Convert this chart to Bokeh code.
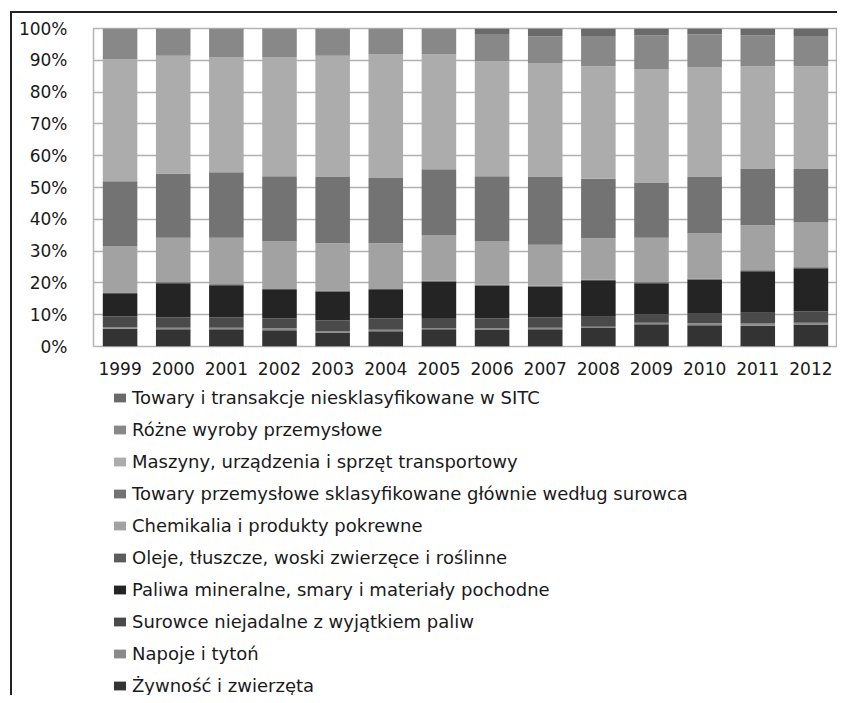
from bokeh.plotting import figure
from bokeh.layouts import column
from bokeh.models import (ColumnDataSource, FactorRange, Range1d, FixedTicker,
                          NumeralTickFormatter, Legend, LegendItem)
from bokeh.embed import file_html
from bokeh.resources import INLINE

years = ["1999", "2000", "2001", "2002", "2003", "2004", "2005",
         "2006", "2007", "2008", "2009", "2010", "2011", "2012"]

# series, bottom of the stack first
zywnosc = [5.6, 5.4, 5.4, 5.1, 4.4, 4.8, 5.4, 5.2, 5.4, 5.8, 7.0, 6.7, 6.5, 6.9]
napoje = [0.5, 0.5, 0.5, 0.6, 0.5, 0.5, 0.4, 0.6, 0.5, 0.4, 0.5, 0.6, 0.7, 0.6]
surowce = [3.3, 3.2, 3.2, 3.1, 3.3, 3.5, 3.2, 3.0, 3.2, 3.2, 2.6, 3.0, 3.4, 3.6]
paliwa = [7.1, 10.8, 10.2, 9.0, 9.1, 9.0, 11.4, 10.3, 9.7, 11.2, 9.8, 10.7, 13.1, 13.5]
oleje = [0.3, 0.3, 0.3, 0.3, 0.3, 0.3, 0.3, 0.3, 0.3, 0.4, 0.3, 0.3, 0.3, 0.3]
chemikalia = [14.8, 14.0, 14.6, 15.1, 14.9, 14.4, 14.4, 13.6, 12.9, 13.1, 14.0, 14.4, 14.1, 14.1]
towary_przem = [20.4, 20.2, 20.6, 20.3, 20.8, 20.5, 20.6, 20.5, 21.3, 18.7, 17.2, 17.6, 17.7, 16.8]
maszyny = [38.3, 37.0, 36.2, 37.5, 38.1, 39.0, 36.1, 36.2, 35.7, 35.4, 35.7, 34.4, 32.3, 32.3]
rozne = [9.7, 8.6, 9.0, 9.0, 8.6, 8.0, 8.2, 8.3, 8.5, 9.3, 10.8, 10.4, 9.7, 9.3]
niesklas = [0.0, 0.0, 0.0, 0.0, 0.0, 0.0, 0.0, 2.0, 2.5, 2.6, 2.1, 1.9, 2.2, 2.6]

names = [
    "Żywność i zwierzęta",
    "Napoje i tytoń",
    "Surowce niejadalne z wyjątkiem paliw",
    "Paliwa mineralne, smary i materiały pochodne",
    "Oleje, tłuszcze, woski zwierzęce i roślinne",
    "Chemikalia i produkty pokrewne",
    "Towary przemysłowe sklasyfikowane głównie według surowca",
    "Maszyny, urządzenia i sprzęt transportowy",
    "Różne wyroby przemysłowe",
    "Towary i transakcje niesklasyfikowane w SITC",
]
keys = ["zywnosc", "napoje", "surowce", "paliwa", "oleje", "chemikalia",
        "towary_przem", "maszyny", "rozne", "niesklas"]
series = [zywnosc, napoje, surowce, paliwa, oleje, chemikalia,
          towary_przem, maszyny, rozne, niesklas]
colors = ["#333333", "#8a8a8a", "#4a4a4a", "#242424", "#5c5c5c",
          "#a2a2a2", "#737373", "#acacac", "#888888", "#6a6a6a"]

totals = [sum(s[i] for s in series) for i in range(len(years))]
data = {"year": years}
for k, s in zip(keys, series):
    data[k] = [v / t for v, t in zip(s, totals)]
source = ColumnDataSource(data)

# ---- chart ----
p = figure(x_range=FactorRange(*years), y_range=Range1d(0, 1),
           width=837, height=380,
           min_border_left=93, min_border_right=0, min_border_top=28,
           min_border_bottom=34,
           output_backend="svg", toolbar_location=None, tools="")

p.styles = {"box-shadow": "inset 10px 11px 0 0 #ffffff, inset 12px 13px 0 0 #222222"}
p.border_fill_color = None
p.background_fill_color = "white"
p.outline_line_color = "#b5b5b5"
p.outline_line_width = 1.5

renderers = p.vbar_stack(keys, x="year", width=0.65, source=source,
                         fill_color=colors, line_color=None)

p.xgrid.grid_line_color = None
p.ygrid.grid_line_color = "#b0b0b0"
p.ygrid.grid_line_width = 1.5

p.yaxis.ticker = FixedTicker(ticks=[0, 0.1, 0.2, 0.3, 0.4, 0.5, 0.6, 0.7, 0.8, 0.9, 1.0])
p.yaxis.formatter = NumeralTickFormatter(format="0%")
p.yaxis.axis_line_color = None
p.yaxis.major_tick_line_color = None
p.yaxis.minor_tick_line_color = None
p.yaxis.major_label_standoff = 20
p.yaxis.major_label_text_font = "DejaVu Sans"
p.yaxis.major_label_text_font_size = "17px"
p.yaxis.major_label_text_color = "#1a1a1a"

p.xaxis.axis_line_color = None
p.xaxis.major_tick_line_color = None
p.xaxis.minor_tick_line_color = None
p.xaxis.major_label_standoff = 9
p.xaxis.major_label_text_font = "DejaVu Sans"
p.xaxis.major_label_text_font_size = "17px"
p.xaxis.major_label_text_color = "#1a1a1a"

# ---- legend (separate panel below the chart) ----
# the same stacked bars are drawn here outside the visible y range,
# so that they only serve as legend glyphs
p2 = figure(width=837, height=315, x_range=FactorRange(*years), y_range=Range1d(5, 6),
            x_axis_type=None, y_axis_type=None,
            min_border_left=0, min_border_right=0, min_border_top=0,
            min_border_bottom=0,
            output_backend="svg", toolbar_location=None, tools="")
p2.styles = {"box-shadow": "inset 10px 0 0 0 #ffffff, inset 12px 0 0 0 #222222"}
p2.border_fill_color = None
p2.background_fill_color = None
p2.outline_line_color = None
p2.xgrid.grid_line_color = None
p2.ygrid.grid_line_color = None

legend_renderers = p2.vbar_stack(keys, x="year", width=0.65, source=source,
                                 fill_color=colors, line_color=None)
items = [LegendItem(label=n, renderers=[r])
         for n, r in zip(names, legend_renderers)][::-1]
legend = Legend(items=items, location=(19, -1), orientation="vertical",
                margin=0, padding=0, spacing=11, label_height=21,
                glyph_height=11, glyph_width=15, label_standoff=5,
                label_text_font="DejaVu Sans", label_text_font_size="18px",
                label_text_color="#1a1a1a",
                border_line_color=None, background_fill_alpha=0)
p2.add_layout(legend, "center")

layout = column(p, p2, spacing=0)
open("out.html", "w").write(file_html(layout, INLINE))
